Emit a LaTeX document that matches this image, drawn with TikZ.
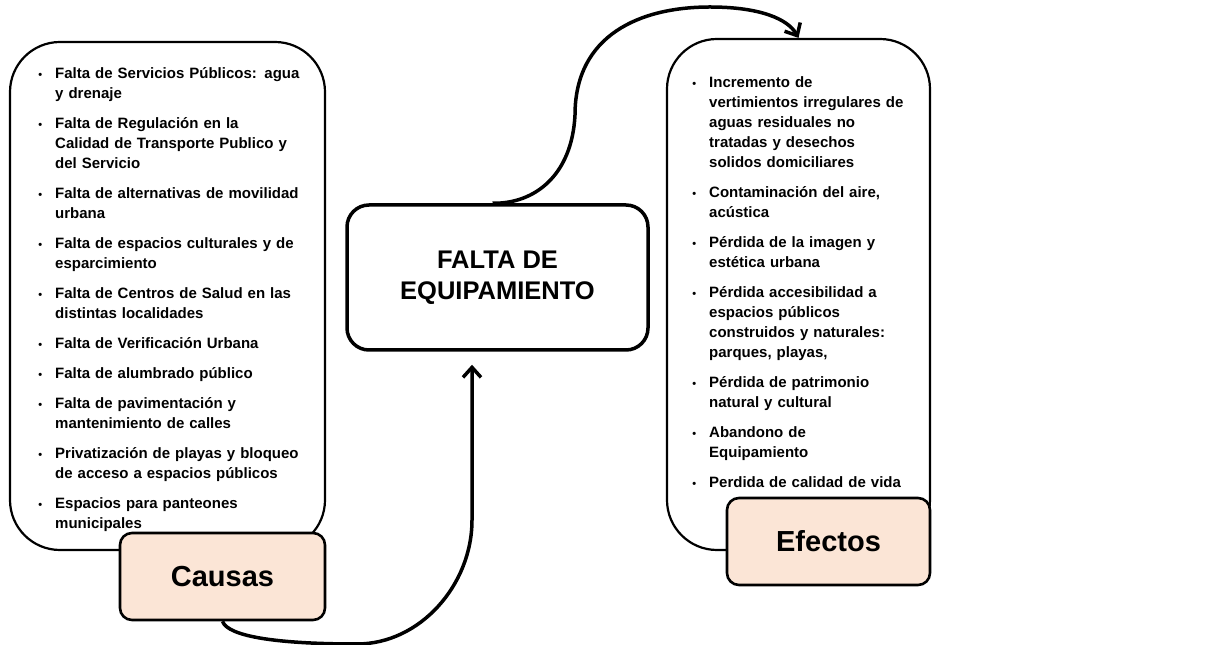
\documentclass[tikz,border=0pt]{standalone}
\usepackage{fontspec}
\setmainfont{Liberation Sans}
\usetikzlibrary{arrows.meta}
\definecolor{peach}{RGB}{251,229,214}
\newcommand{\bul}{\leavevmode\llap{{\fontsize{11}{11}\selectfont •}\hspace{13pt}}}
\begin{document}
\begin{tikzpicture}[x=1pt,y=1pt,
  bigbox/.style={draw=black, line width=2.2pt, rounded corners=50pt, inner sep=0pt},
  tagbox/.style={draw=black, line width=2.6pt, rounded corners=12pt, fill=peach, inner sep=0pt, font=\fontsize{29}{33}\selectfont\bfseries},
  corebox/.style={draw=black, line width=3.5pt, rounded corners=22pt, fill=white, inner sep=0pt, align=center, font=\fontsize{25.5}{31}\selectfont\bfseries},
  listtext/.style={anchor=north west, inner sep=0pt, text width=270pt, align=left, font=\fontsize{15}{20}\selectfont\bfseries},
  flow/.style={line width=3.5pt, -{Straight Barb[length=10pt,width=18pt]}}
]
\useasboundingbox (0,0) rectangle (1205,645);
\fill[white] (0,0) rectangle (1205,645);

\node[bigbox, minimum width=315pt, minimum height=508pt] (causebox) at (167.5,349) {};
\node[bigbox, minimum width=263pt, minimum height=511pt] (effbox) at (798.5,350.5) {};

\node[listtext] (causelist) at (55,582) {\rule{0pt}{15pt}\bul Falta de Servicios Públicos: agua\\ y drenaje\\[10pt]
\bul Falta de Regulación en la\\ Calidad de Transporte Publico y\\ del Servicio\\[10pt]
\bul Falta de alternativas de movilidad\\ urbana\\[10pt]
\bul Falta de espacios culturales y de\\ esparcimiento\\[10pt]
\bul Falta de Centros de Salud en las\\ distintas localidades\\[10pt]
\bul Falta de Verificación Urbana\\[10pt]
\bul Falta de alumbrado público\\[10pt]
\bul Falta de pavimentación y\\ mantenimiento de calles\\[10pt]
\bul Privatización de playas y bloqueo\\ de acceso a espacios públicos\\[10pt]
\bul Espacios para panteones\\ municipales};

\node[listtext] (efflist) at (709,573) {\rule{0pt}{15pt}\bul Incremento de\\ vertimientos irregulares de\\ aguas residuales no\\ tratadas y desechos\\ solidos domiciliares\\[10pt]
\bul Contaminación del aire,\\ acústica\\[10pt]
\bul Pérdida de la imagen y\\ estética urbana\\[10pt]
\bul Pérdida accesibilidad a\\ espacios públicos\\ construidos y naturales:\\ parques, playas,\\[10pt]
\bul Pérdida de patrimonio\\ natural y cultural\\[10pt]
\bul Abandono de\\ Equipamiento\\[10pt]
\bul Perdida de calidad de vida};

\node[tagbox, minimum width=205pt, minimum height=87pt] (causas) at (222.5,68.5) {Causas};
\node[tagbox, minimum width=203pt, minimum height=87pt] (efectos) at (828.5,103.5) {Efectos};
\node[corebox, minimum width=301pt, minimum height=145pt] (core) at (497.5,367.5) {FALTA DE\\EQUIPAMIENTO};

\draw[flow] ([xshift=-5pt]core.north) .. controls (535,441) and (572,470) .. (575,530)
  .. controls (575,610) and (640,638) .. (710,638)
  .. controls (760,638) and (788,626) .. (effbox.north);

\draw[flow] (causas.south) .. controls (228,8) and (280,1) .. (357,1)
  .. controls (420,1) and (472,60) .. (472,125)
  -- ([xshift=-25.5pt,yshift=-13pt]core.south);
\end{tikzpicture}
\end{document}
